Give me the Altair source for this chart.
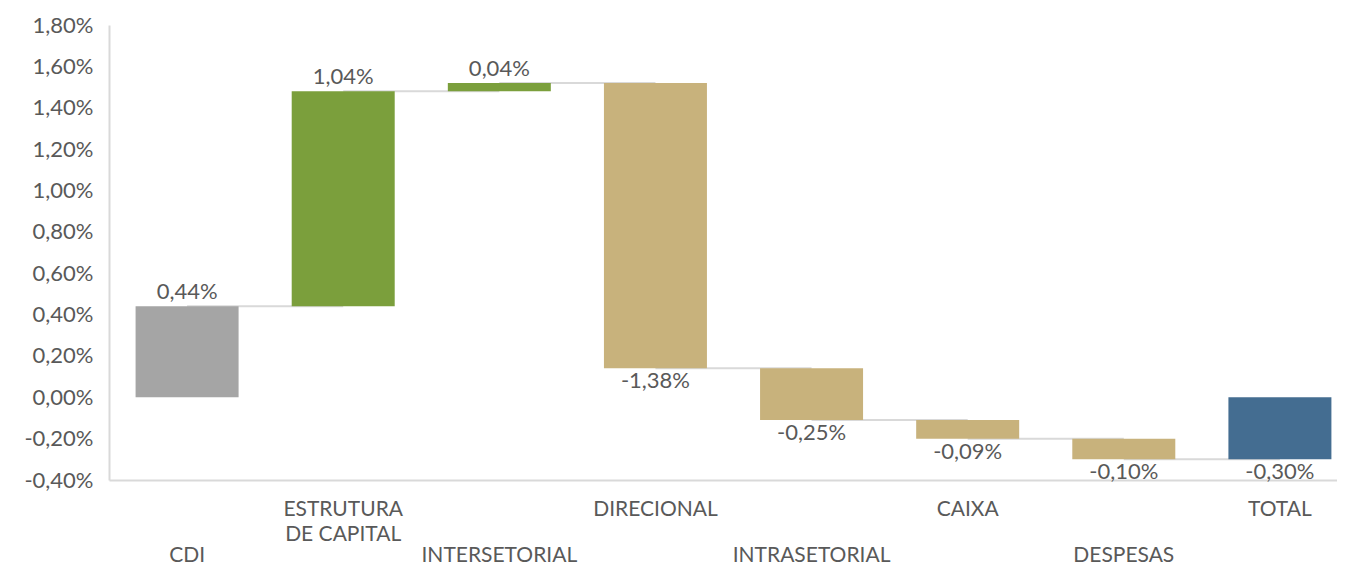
import json
import altair as alt
import pandas as pd

# ---- data ----
categories = ["CDI", "ESTRUTURA DE CAPITAL", "INTERSETORIAL", "DIRECIONAL",
              "INTRASETORIAL", "CAIXA", "DESPESAS", "TOTAL"]
values = [0.44, 1.04, 0.04, -1.38, -0.25, -0.09, -0.10, -0.30]
kinds = ["base", "up", "up", "down", "down", "down", "down", "total"]
# upper-row axis labels (odd categories); lower-row ones are drawn as a text layer
upper_lines = {"ESTRUTURA DE CAPITAL": ["ESTRUTURA", "DE CAPITAL"], "DIRECIONAL": ["DIRECIONAL"],
               "CAIXA": ["CAIXA"], "TOTAL": ["TOTAL"]}
lower_labels = ["CDI", "INTERSETORIAL", "INTRASETORIAL", "DESPESAS"]
value_labels = ["0,44%", "1,04%", "0,04%", "-1,38%", "-0,25%", "-0,09%", "-0,10%", "-0,30%"]
y_ticks = [-0.4, -0.2, 0.0, 0.2, 0.4, 0.6, 0.8, 1.0, 1.2, 1.4, 1.6, 1.8]
kind_names = ["base", "up", "down", "total"]
kind_colors = ["#A5A5A5", "#7B9F3C", "#C8B27C", "#446D91"]

# ---- waterfall table ----
rows = []
running = 0.0
for cat, v, k, lab in zip(categories, values, kinds, value_labels):
    if k in ("base", "total"):
        start, end = 0.0, v
    else:
        start, end = running, running + v
    if k != "total":
        running = end
    rows.append(dict(cat=cat, start=start, end=end, kind=k, label=lab,
                     top=max(start, end), bottom=min(start, end), value=v))
df = pd.DataFrame(rows)

conn = pd.DataFrame([dict(cat=categories[i], nxt=categories[i + 1], level=rows[i]["end"])
                     for i in range(len(categories) - 1)])
lower_df = pd.DataFrame({"cat": lower_labels, "name": lower_labels})

FONT = "Lato"
GRAY = "#595959"
LINE = "#D9D9D9"

label_expr = " : ".join(
    f"datum.value === {json.dumps(c)} ? {json.dumps(l)}" for c, l in upper_lines.items()
) + " : ''"

x_scale = alt.Scale(domain=categories, range=[0, 1249], paddingInner=0.333, paddingOuter=0.1667)
y_scale = alt.Scale(domain=[-0.4, 1.8], nice=False, zero=False)

x_axis = alt.Axis(labelExpr=label_expr, labelAngle=0, ticks=False,
                  domainColor=LINE, domainWidth=2, labelFont=FONT, labelFontSize=21,
                  labelColor=GRAY, labelPadding=18, labelLineHeight=25,
                  labelOverlap=False, labelBound=False, labelLimit=0,
                  labelBaseline="top", labelAlign="center")
y_axis = alt.Axis(values=y_ticks, grid=False, ticks=False, domainColor=LINE,
                  domainWidth=2, labelFont=FONT, labelFontSize=22, labelColor=GRAY,
                  labelPadding=16,
                  labelExpr="replace(replace(format(datum.value, '.2f'), '.', ','), '\u2212', '-') + '%'")


def X(field, **kw):
    return alt.X(field, type="nominal", scale=x_scale, title=None, axis=x_axis, **kw)


def Y(field):
    return alt.Y(field, type="quantitative", scale=y_scale, title=None, axis=y_axis)


rules = alt.Chart(conn).mark_rule(color=LINE, strokeWidth=2).encode(
    x=X("cat", bandPosition=0.5),
    x2=alt.X2("nxt", bandPosition=0.5),
    y=Y("level"),
)

bars = alt.Chart(df).mark_bar(size=103).encode(
    x=X("cat"),
    y=Y("start"),
    y2="end:Q",
    color=alt.Color("kind:N", scale=alt.Scale(domain=kind_names, range=kind_colors), legend=None),
)

pos_text = alt.Chart(df).transform_filter("datum.value >= 0").mark_text(
    baseline="bottom", dy=-2, font=FONT, fontSize=22, color=GRAY
).encode(x=X("cat"), y=Y("top"), text="label:N")

neg_text = alt.Chart(df).transform_filter("datum.value < 0").mark_text(
    baseline="top", dy=3, font=FONT, fontSize=22, color=GRAY
).encode(x=X("cat"), y=Y("bottom"), text="label:N")

# lower row of category labels, hung below the x axis (y = -0.40%)
lower_text = alt.Chart(lower_df).mark_text(
    baseline="middle", dy=76, font=FONT, fontSize=21, color=GRAY
).encode(x=X("cat"), y=alt.datum(-0.4, scale=y_scale), text="name:N")

chart = alt.layer(rules, bars, pos_text, neg_text, lower_text).properties(
    width=1228, height=455,
    autosize=alt.AutoSizeParams(type="none"),
    padding={"left": 101, "top": 17, "right": 0, "bottom": 87},
).configure_view(stroke=None)

chart.save("out.html", embed_options={"renderer": "svg", "actions": False})
